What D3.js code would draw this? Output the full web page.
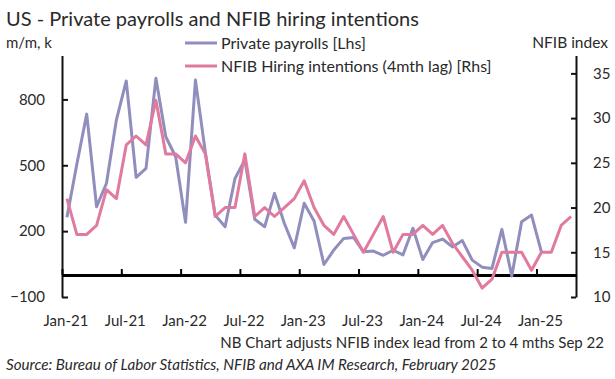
<!DOCTYPE html>
<html>
<head>
<meta charset="utf-8">
<script src="https://cdn.jsdelivr.net/npm/d3@7"></script>
<style>
  body { margin: 0; background: #fff; }
  text { font-family: Lato, "Open Sans", sans-serif; fill: #2a2a2a; }
</style>
</head>
<body>
<svg id="chart"></svg>
<script>
// month categories, Jan-21 .. Apr-25
const months = d3.timeMonths(new Date(2021, 0, 1), new Date(2025, 4, 1));

// private payrolls, m/m change, thousands (Jan-21 .. Jan-25)
const payrolls = [263, 505, 733, 311, 418, 706, 884, 445, 486, 896, 630, 539,
    240, 888, 560, 273, 220, 440, 524, 254, 220, 372, 235, 124,
    327, 246, 48, 114, 167, 171, 106, 109, 90, 113, 92, 213,
    71, 148, 164, 128, 157, 68, 36, 30, 208, -4, 243, 273,
    106];

// NFIB hiring intentions, 4 month lag (Jan-21 .. Apr-25)
const nfib = [21, 17, 17, 18, 22, 21, 27, 28, 27, 32, 26, 26,
    25, 28, 26, 19, 20, 20, 26, 19, 20, 19, 20, 21,
    23, 20, 18, 17, 19, 17, 15, 17, 19, 15, 17, 17,
    18, 17, 18, 16, 14.5, 13, 11, 12, 15, 15, 15, 13,
    15, 15, 18, 19];

const leftTicks = [-100, 200, 500, 800];
const rightTicks = [10, 15, 20, 25, 30, 35];
const xTickMonths = [0, 6, 12, 18, 24, 30, 36, 42, 48];

const width = 615, height = 379;
const purple = '#908ebc';
const pink = '#e07a9f';

const svg = d3.select('#chart')
    .attr('width', width)
    .attr('height', height);

// scales
const x = d3.scaleLinear().domain([0, months.length]).range([62, 576]);
const yL = d3.scaleLinear().domain([-100, 1000]).range([297, 55.5]);
const yR = d3.scaleLinear().domain([10, 37]).range([297, 55.5]);

// title and axis captions
svg.append('text')
    .attr('x', 6).attr('y', 26)
    .style('font-size', '20px')
    .text('US - Private payrolls and NFIB hiring intentions');

svg.append('text')
    .attr('x', 6).attr('y', 48)
    .style('font-size', '15px')
    .text('m/m, k');

svg.append('text')
    .attr('x', 608).attr('y', 48)
    .attr('text-anchor', 'end')
    .style('font-size', '15.5px')
    .text('NFIB index');

// left axis
const left = svg.append('g')
    .attr('transform', 'translate(62,0)')
    .call(d3.axisLeft(yL).tickValues(leftTicks).tickSizeInner(-6).tickSizeOuter(0).tickPadding(17));

// right axis
const right = svg.append('g')
    .attr('transform', 'translate(576,0)')
    .call(d3.axisRight(yR).tickValues(rightTicks).tickSizeInner(-5).tickSizeOuter(0).tickPadding(17));

[left, right].forEach(g => {
    g.select('.domain').attr('stroke', '#111').attr('stroke-width', 2);
    g.selectAll('.tick line').attr('stroke', '#111').attr('stroke-width', 2);
    g.selectAll('.tick text')
        .style('font-size', '15px')
        .style('font-family', 'Lato, "Open Sans", sans-serif')
        .attr('fill', '#2a2a2a');
});

// zero line with ticks
const xAxis = svg.append('g')
    .attr('transform', `translate(0,${yL(0)})`)
    .call(d3.axisTop(x).tickValues(xTickMonths).tickSizeInner(6).tickSizeOuter(0).tickFormat(''));
xAxis.select('.domain').attr('stroke', '#000').attr('stroke-width', 3);
xAxis.selectAll('.tick line').attr('stroke', '#000').attr('stroke-width', 2);

// month labels at the bottom
const fmt = d3.timeFormat('%b-%y');
svg.append('g')
    .selectAll('text')
    .data(xTickMonths)
    .enter()
    .append('text')
    .attr('x', d => x(d) + 4)
    .attr('y', 326)
    .attr('text-anchor', 'middle')
    .style('font-size', '15px')
    .text(d => fmt(months[d]));

// lines
const payLine = d3.line()
    .x((d, i) => x(i + 0.5))
    .y(d => yL(d));

const nfibLine = d3.line()
    .x((d, i) => x(i + 0.5))
    .y(d => yR(d));

svg.append('path')
    .datum(payrolls)
    .attr('d', payLine)
    .attr('fill', 'none')
    .attr('stroke', purple)
    .attr('stroke-width', 3)
    .attr('stroke-linejoin', 'round');

svg.append('path')
    .datum(nfib)
    .attr('d', nfibLine)
    .attr('fill', 'none')
    .attr('stroke', pink)
    .attr('stroke-width', 3)
    .attr('stroke-linejoin', 'round');

// legend
const legendItems = [
    { label: 'Private payrolls [Lhs]', color: purple },
    { label: 'NFIB Hiring intentions (4mth lag) [Rhs]', color: pink }
];
const legend = svg.append('g')
    .selectAll('g')
    .data(legendItems)
    .enter()
    .append('g')
    .attr('transform', (d, i) => `translate(185,${43 + i * 23})`);

legend.append('line')
    .attr('x1', 0).attr('x2', 32)
    .attr('stroke', d => d.color)
    .attr('stroke-width', 3);

legend.append('text')
    .attr('x', 36).attr('y', 5.5)
    .style('font-size', '16px')
    .text(d => d.label);

// notes
svg.append('text')
    .attr('x', 604).attr('y', 348)
    .attr('text-anchor', 'end')
    .style('font-size', '15px')
    .text('NB Chart adjusts NFIB index lead from 2 to 4 mths Sep 22');

svg.append('text')
    .attr('x', 6).attr('y', 370)
    .style('font-size', '15.2px')
    .style('font-style', 'italic')
    .text('Source: Bureau of Labor Statistics, NFIB and AXA IM Research, February 2025');
</script>
</body>
</html>
